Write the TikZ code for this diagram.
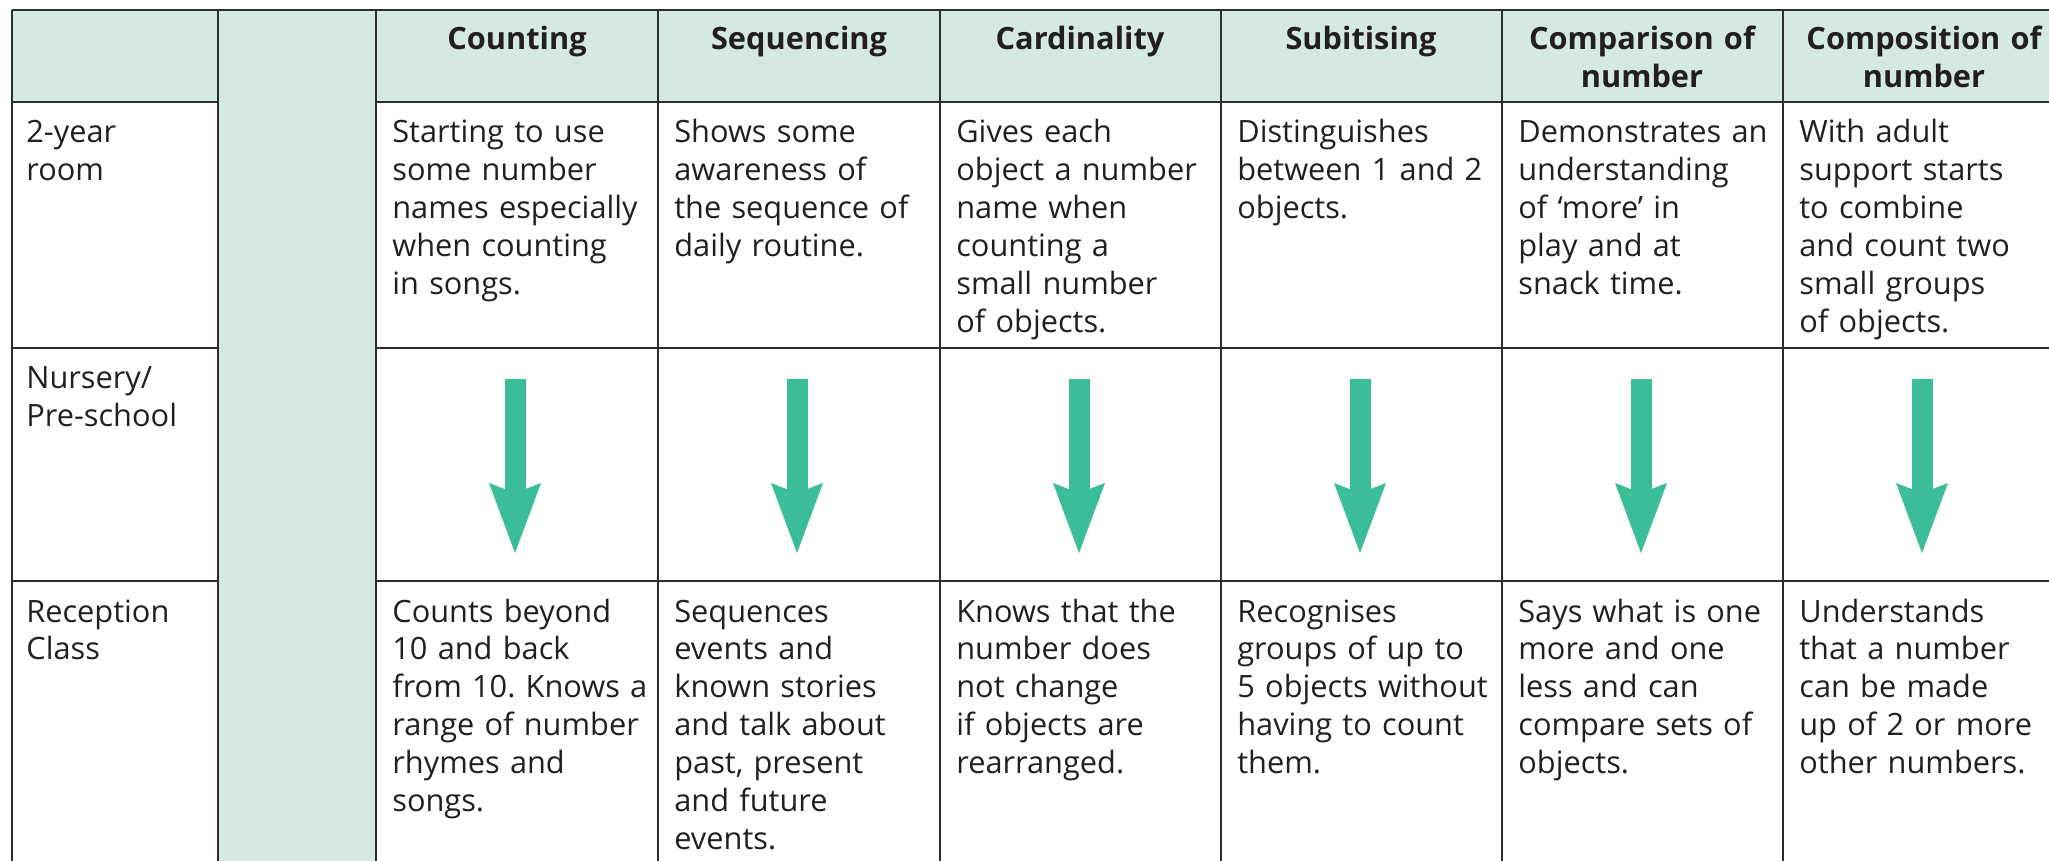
\documentclass[tikz,border=0pt]{standalone}
\usepackage{fontspec}
\setmainfont{Open Sans}
\usepackage{tikz}
\usetikzlibrary{arrows.meta}
\definecolor{mint}{RGB}{212,234,224}
\definecolor{arrowgreen}{RGB}{58,189,152}
\definecolor{gridgray}{RGB}{45,45,45}
\definecolor{textdark}{RGB}{35,31,32}
\newcommand{\cellfont}{\fontsize{17.5pt}{21.6pt}\selectfont}
\frenchspacing
\tikzset{
  gridline/.style={draw=gridgray,line width=0.055cm},
  headtxt/.style={anchor=base,text width=5.4cm,align=center,inner sep=0pt,
    font=\cellfont\bfseries,text=textdark},
  celltxt/.style={anchor=base west,text width=5.4cm,align=left,inner sep=0pt,
    font=\cellfont,text=textdark},
  % the green arrows of the middle row
  downarrow/.style={draw=arrowgreen,line width=0.42cm,
    -{Stealth[length=1.4cm,width=1.04cm,inset=0.2cm,line width=0pt]}}
}

\begin{document}
\begin{tikzpicture}[x=0.02cm,y=-0.02cm]
  \useasboundingbox (0,0) rectangle (2049,861);
  \clip (0,0) rectangle (2049,861);
  % shaded header row and blank second column
  \fill[mint] (12,10) rectangle (2080,102);
  \fill[mint] (218,10) rectangle (376,880);
  % grid
  \foreach \x in {12,218,376,658,940,1221,1502,1783}
    \draw[gridline] (\x,10) -- (\x,880);
  \draw[gridline] (12,10) -- (2080,10);
  \foreach \y in {102,348,581} {
    \draw[gridline] (12,\y) -- (218,\y);
    \draw[gridline] (376,\y) -- (2080,\y);
  }
  % headers
  \node[headtxt] (hcount) at (517,50) {Counting};
  \node[headtxt] (hseq) at (799,50) {Sequencing};
  \node[headtxt] (hcard) at (1080,50) {Cardinality};
  \node[headtxt] (hsub) at (1361,50) {Subitising};
  \node[headtxt] (hcomp) at (1642,50) {Comparison of\\number};
  \node[headtxt] (hcompo) at (1924,50) {Composition of\\number};
  % row labels
  \node[celltxt] (lroom) at (26,143) {2-year\\room};
  \node[celltxt] (lnursery) at (26,389) {Nursery/\\Pre-school};
  \node[celltxt] (lreception) at (26,622) {Reception\\Class};
  % 2-year room
  \node[celltxt] (room1) at (392,143) {Starting to use\\some number\\names especially\\when counting\\in songs.};
  \node[celltxt] (room2) at (674,143) {Shows some\\awareness of\\the sequence of\\daily routine.};
  \node[celltxt] (room3) at (956,143) {Gives each\\object a number\\name when\\counting a\\small number\\of objects.};
  \node[celltxt] (room4) at (1237,143) {Distinguishes\\between 1 and 2\\objects.};
  \node[celltxt] (room5) at (1518,143) {Demonstrates an\\understanding\\of ‘more’ in\\play and at\\snack time.};
  \node[celltxt] (room6) at (1799,143) {With adult\\support starts\\to combine\\and count two\\small groups\\of objects.};
  % nursery arrows
  \foreach \i/\x in {1/515,2/797,3/1079,4/1360,5/1641,6/1922} {
    \coordinate (top\i) at (\x,379);
    \coordinate (tip\i) at (\x,553);
    \draw[downarrow] (top\i) -- (tip\i);
  }
  % reception class
  \node[celltxt] (rec1) at (392,622) {Counts beyond\\10 and back\\from 10. Knows a\\range of number\\rhymes and\\songs.};
  \node[celltxt] (rec2) at (674,622) {Sequences\\events and\\known stories\\and talk about\\past, present\\and future\\events.};
  \node[celltxt] (rec3) at (956,622) {Knows that the\\number does\\not change\\if objects are\\rearranged.};
  \node[celltxt] (rec4) at (1237,622) {Recognises\\groups of up to\\5 objects without\\having to count\\them.};
  \node[celltxt] (rec5) at (1518,622) {Says what is one\\more and one\\less and can\\compare sets of\\objects.};
  \node[celltxt] (rec6) at (1799,622) {Understands\\that a number\\can be made\\up of 2 or more\\other numbers.};
\end{tikzpicture}
\end{document}
